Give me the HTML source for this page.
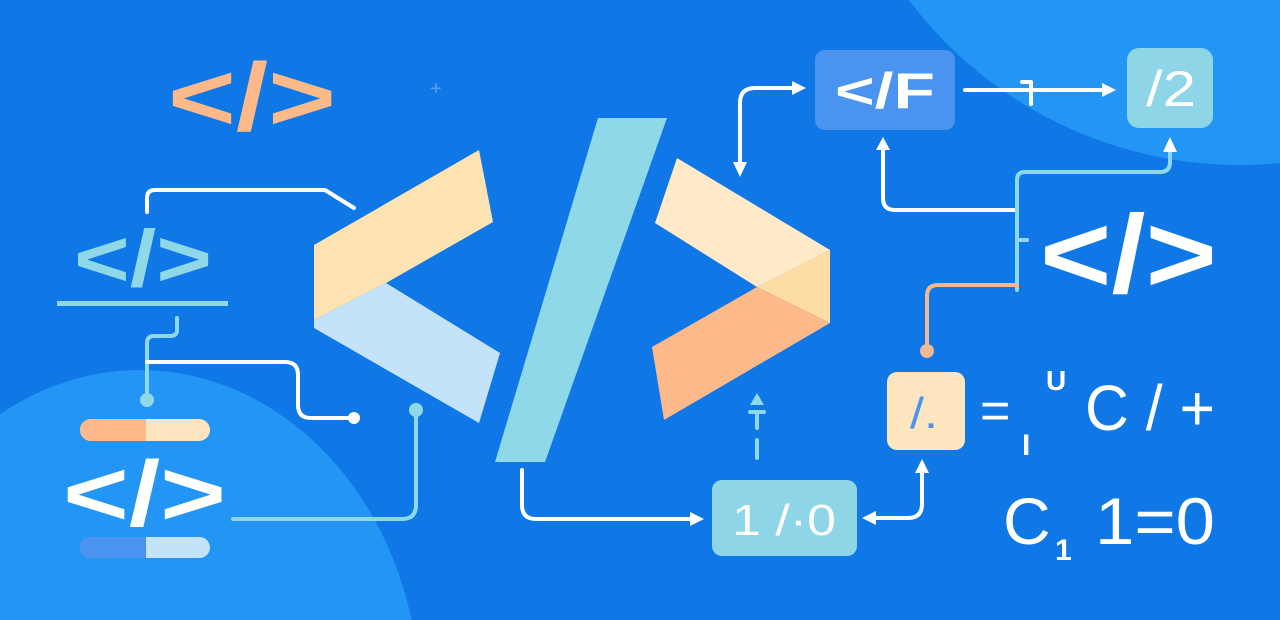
<!DOCTYPE html>
<html><head><meta charset="utf-8"><style>
html,body{margin:0;padding:0;background:#0F77E6;width:1280px;height:620px;overflow:hidden;}
svg{display:block;}
text{font-family:"Liberation Sans",sans-serif;}
</style></head><body>
<svg width="1280" height="620" viewBox="0 0 1280 620" xmlns="http://www.w3.org/2000/svg">
<rect width="1280" height="620" fill="#0F77E6"/>
<circle cx="1240" cy="-250" r="415" fill="#2395F5"/>
<ellipse cx="140" cy="700" rx="280" ry="330" fill="#2395F5"/>

<polygon points="314,245 479,150 493,222 386,283 314,320" fill="#FDE2B2"/>
<polygon points="386,283 500,353 479,423 314,328 314,320" fill="#C5E3F8"/>
<polygon points="598,118 667,118 545,462 495,462" fill="#8FD8E8"/>
<polygon points="677,158 830,250 757,287 655,223" fill="#FEE9C8"/>
<polygon points="757,287 830,250 830,323" fill="#FDDCA5"/>
<polygon points="757,287 830,323 664,420 652,347" fill="#FDB98A"/>

<text x="168" y="130" font-size="96" font-weight="bold" fill="#FDBA88" textLength="168" lengthAdjust="spacingAndGlyphs">&lt;/&gt;</text>
<text x="74" y="286" font-size="80" font-weight="bold" fill="#8FD8E8" textLength="138" lengthAdjust="spacingAndGlyphs">&lt;/&gt;</text>
<text x="63" y="525" font-size="92" fill="#FFFFFF" font-weight="bold" textLength="163" lengthAdjust="spacingAndGlyphs">&lt;/&gt;</text>
<text x="1040" y="292" font-size="110" fill="#FFFFFF" font-weight="bold" textLength="177" lengthAdjust="spacingAndGlyphs">&lt;/&gt;</text>
<text x="430" y="95" font-size="20" fill="#5A9FEF">+</text>

<rect x="57" y="301" width="171" height="5" fill="#8FD8E8"/>
<rect x="80" y="419" width="130" height="22" rx="11" fill="#FEE4C0"/>
<path d="M91,419 H146 V441 H91 A11,11 0 0 1 91,419Z" fill="#FDB98A"/>
<rect x="80" y="537" width="130" height="21" rx="10.5" fill="#C5E3F8"/>
<path d="M90,537 H146 V558 H90 A10.5,10.5 0 0 1 90,537Z" fill="#4A94F0"/>

<rect x="815" y="50" width="140" height="80" rx="10" fill="#4A94F0"/>
<text x="835" y="108" font-size="50" font-weight="bold" fill="#FFFFFF" textLength="100" lengthAdjust="spacingAndGlyphs">&lt;/F</text>
<rect x="1127" y="48" width="86" height="80" rx="12" fill="#8ED5E8"/>
<text x="1146" y="106" font-size="50" fill="#FFFFFF" textLength="50" lengthAdjust="spacingAndGlyphs">/2</text>
<rect x="887" y="372" width="78" height="78" rx="10" fill="#FDE5C0"/>
<text x="910" y="428" font-size="44" fill="#4A94F0" textLength="28" lengthAdjust="spacingAndGlyphs">/.</text>
<rect x="712" y="480" width="145" height="76" rx="10" fill="#8ED5E8"/>
<text x="732" y="535" font-size="44" fill="#FFFFFF" textLength="104" lengthAdjust="spacingAndGlyphs">1 /·0</text>

<text x="980" y="428" font-size="52" fill="#FFFFFF">=</text>
<text x="1022" y="455" font-size="30" fill="#FFFFFF" font-weight="bold">I</text>
<text x="1046" y="390" font-size="28" fill="#FFFFFF" font-weight="bold">U</text>
<text x="1085" y="430" font-size="64" fill="#FFFFFF" textLength="130" lengthAdjust="spacingAndGlyphs">C / +</text>
<text x="1003" y="544" font-size="66" fill="#FFFFFF">C</text>
<text x="1055" y="560" font-size="30" fill="#FFFFFF" font-weight="bold">1</text>
<text x="1095" y="544" font-size="66" fill="#FFFFFF" textLength="120" lengthAdjust="spacingAndGlyphs">1=0</text>

<g fill="none" stroke-width="4" stroke-linecap="round" stroke-linejoin="round">
<path d="M147,212 V198 Q147,190 155,190 H325 L354,208" stroke="#FFFFFF"/>
<path d="M177,318 V330 Q177,336 170,336 H154 Q147,336 147,343 V400" stroke="#8FD8E8"/>
<path d="M147,362 H285 Q298,362 298,375 V405 Q298,418 311,418 H352" stroke="#FFFFFF"/>
<path d="M233,519 H402 Q416,519 416,505 V410" stroke="#8FD8E8"/>
<path d="M740,170 V103 Q740,88 755,88 H795" stroke="#FFFFFF"/>
<path d="M965,90 H1105" stroke="#FFFFFF"/>
<path d="M1022,82 H1031 V104" stroke="#FFFFFF"/>
<path d="M883,148 V198 Q883,210 895,210 H1015" stroke="#FFFFFF"/>
<path d="M1017,290 V180 Q1017,172 1025,172 H1160 Q1170,172 1170,162 V148" stroke="#8FD8E8"/>
<path d="M1017,240 H1027" stroke="#8FD8E8"/>
<path d="M1017,285 H938 Q927,285 927,296 V348" stroke="#F2B896"/>
<path d="M757,412 V428 M750,412 H764 M757,440 V458" stroke="#8FD8E8"/>
<path d="M522,470 V505 Q522,519 536,519 H693" stroke="#FFFFFF"/>
<path d="M872,518 H908 Q922,518 922,504 V470" stroke="#FFFFFF"/>
</g>
<g fill="#FFFFFF">
<polygon points="733,162 747,162 740,177"/>
<polygon points="792,81 806,88 792,95"/>
<polygon points="1102,83 1116,90 1102,97"/>
<polygon points="876,150 883,137 890,150"/>
<polygon points="1163,152 1170,137 1177,152"/>
<polygon points="690,512 704,519 690,526"/>
<polygon points="876,511 862,518 876,525"/>
<polygon points="915,473 922,459 929,473"/>
<circle cx="354" cy="418" r="6"/>
</g>
<polygon points="750,405 757,393 764,405" fill="#8FD8E8"/>
<circle cx="147" cy="400" r="7" fill="#8FD8E8"/>
<circle cx="416" cy="410" r="7" fill="#8FD8E8"/>
<circle cx="927" cy="351" r="7" fill="#F2B896"/>
</svg>
</body></html>
